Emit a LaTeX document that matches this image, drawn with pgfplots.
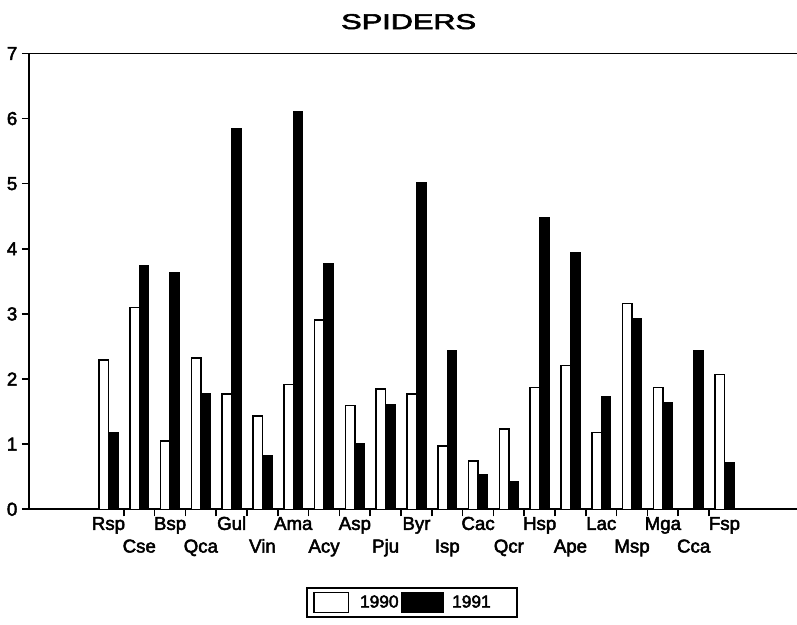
\documentclass[border=0pt]{standalone}
\usepackage{graphicx}
\usepackage{fontspec}
\setmainfont{Liberation Sans}
\newfontfamily\heavy{Liberation Sans}[FakeBold=2.6]
\usepackage{pgfplots}
\pgfplotsset{compat=1.18}

\begin{document}
\begin{tikzpicture}
\path[use as bounding box] (0,0) rectangle (597.75pt,468.75pt);
\node[font=\heavy\fontsize{16}{19}\selectfont, inner sep=0pt] at (306.5pt,452.5pt) {\scalebox{1.44}[1]{SPIDERS}};
\begin{axis}[
  at={(21.75pt,86.78pt)}, anchor=south west,
  width=576pt, height=341.9pt, scale only axis,
  xmin=-2.58, xmax=22.355, ymin=0, ymax=7,
  axis x line*=bottom, axis y line*=left,
  axis line style={line width=1.6pt},
  tick align=outside,
  every tick/.style={black, line width=1.2pt},
  major tick length=5.25pt,
  ytick={0,...,7},
  /pgf/number format/assume math mode=true,
  yticklabel style={font=\heavy\fontsize{14}{17}\selectfont},
  xtick={0.5,1.5,...,19.5}, xticklabels={},
  extra x ticks={0,...,20},
  extra x tick labels={{\strut Rsp},{\strut\\Cse},{\strut Bsp},{\strut\\Qca},{\strut Gul},{\strut\\Vin},{\strut Ama},{\strut\\Acy},{\strut Asp},{\strut\\Pju},{\strut Byr},{\strut\\Isp},{\strut Cac},{\strut\\Qcr},{\strut Hsp},{\strut\\Ape},{\strut Lac},{\strut\\Msp},{\strut Mga},{\strut\\Cca},{\strut Fsp}},
  extra x tick style={major tick length=0pt, xticklabel style={align=center, font=\heavy\fontsize{14}{17}\selectfont}},
  legend columns=2,
  legend style={at={(0.4987,-0.2044)}, anchor=center, draw=black, line width=1.5pt,
    font=\heavy\fontsize{13}{15}\selectfont, inner xsep=5pt, inner ysep=3pt,
    /tikz/every even column/.append style={column sep=0pt}},
]
\addplot[ybar, bar width=7.1pt, bar shift=-3.55pt, fill=white, draw=black, line width=1.1pt,
  legend image code/.code={\draw[fill=white, draw=black, line width=1.1pt] (0pt,-7.5pt) rectangle (26pt,7.5pt);}]
coordinates {(0,2.29) (1,3.10) (2,1.05) (3,2.32) (4,1.77) (5,1.43) (6,1.92) (7,2.91) (8,1.59) (9,1.85)
 (10,1.77) (11,0.97) (12,0.74) (13,1.23) (14,1.87) (15,2.21) (16,1.18) (17,3.16) (18,1.87) (20,2.07)};
\addlegendentry{\hspace{6pt}\makebox[29pt][l]{1990}}
\addplot[ybar, bar width=7.1pt, bar shift=3.55pt, fill=black, draw=black, line width=1.1pt,
  legend image code/.code={\draw[fill=black, draw=black, line width=1.1pt] (0pt,-7.5pt) rectangle (31pt,7.5pt);}]
coordinates {(0,1.18) (1,3.74) (2,3.63) (3,1.78) (4,5.84) (5,0.83) (6,6.10) (7,3.77) (8,1.00) (9,1.60)
 (10,5.01) (11,2.44) (12,0.53) (13,0.42) (14,4.48) (15,3.94) (16,1.73) (17,2.92) (18,1.63) (19,2.44) (20,0.71)};
\addlegendentry{\hspace{4pt}\makebox[42pt][l]{1991}}
\draw[line width=1.6pt] (rel axis cs:0,1) -- (rel axis cs:1,1);
\end{axis}
\end{tikzpicture}
\end{document}
